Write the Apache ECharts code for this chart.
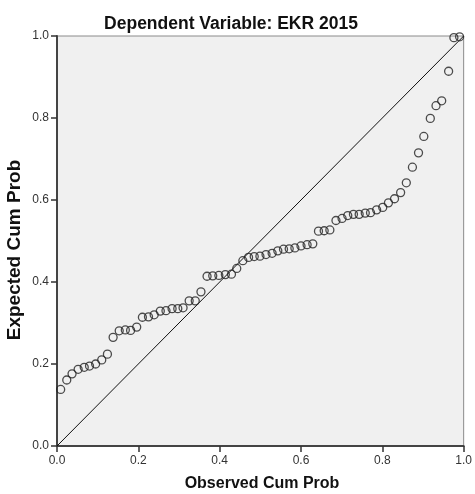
<!DOCTYPE html>
<html>
<head>
<meta charset="utf-8">
<script src="https://cdn.jsdelivr.net/npm/echarts@6/dist/echarts.min.js"></script>
<style>
  html, body { margin: 0; padding: 0; background: #fff; }
  #chart { width: 475px; height: 494px; }
</style>
</head>
<body>
<div id="chart"></div>
<script>
// observed cumulative probability (x) and expected cumulative probability (y)
const observedCum = [
  0.009, 0.024, 0.037, 0.052, 0.067, 0.080, 0.095, 0.110, 0.124, 0.138,
  0.153, 0.168, 0.181, 0.196, 0.210, 0.225, 0.239, 0.254, 0.268, 0.283,
  0.297, 0.310, 0.325, 0.340, 0.354, 0.369, 0.383, 0.398, 0.414, 0.429,
  0.442, 0.457, 0.471, 0.485, 0.499, 0.514, 0.529, 0.543, 0.557, 0.571,
  0.585, 0.600, 0.615, 0.629, 0.643, 0.657, 0.671, 0.686, 0.701, 0.715,
  0.729, 0.743, 0.758, 0.771, 0.786, 0.801, 0.815, 0.830, 0.845, 0.859,
  0.874, 0.889, 0.902, 0.918, 0.932, 0.946, 0.963, 0.976, 0.990
];
const expectedCum = [
  0.138, 0.161, 0.176, 0.187, 0.192, 0.195, 0.200, 0.210, 0.224, 0.265,
  0.281, 0.283, 0.282, 0.290, 0.314, 0.315, 0.320, 0.329, 0.330, 0.335,
  0.335, 0.337, 0.354, 0.354, 0.376, 0.414, 0.415, 0.416, 0.418, 0.419,
  0.433, 0.452, 0.460, 0.462, 0.463, 0.467, 0.470, 0.476, 0.480, 0.481,
  0.483, 0.488, 0.491, 0.493, 0.524, 0.525, 0.527, 0.550, 0.555, 0.562,
  0.565, 0.565, 0.568, 0.569, 0.576, 0.582, 0.593, 0.603, 0.618, 0.642,
  0.680, 0.715, 0.755, 0.799, 0.830, 0.842, 0.914, 0.996, 0.998
];
// diagonal reference line
const refX = [0, 1];
const refY = [0, 1];

const titleText = 'Dependent Variable: EKR 2015';
const xName = 'Observed Cum Prob';
const yName = 'Expected Cum Prob';

const chart = echarts.init(document.getElementById('chart'));

const font = 'Liberation Sans';

const axisCommon = {
  type: 'value',
  min: 0,
  max: 1,
  interval: 0.2,
  axisLine: { show: true, lineStyle: { color: '#444', width: 2 } },
  axisTick: { show: true, inside: false, length: 6, lineStyle: { color: '#333', width: 1.5 } },
  axisLabel: {
    fontFamily: font, fontSize: 12, color: '#333',
    formatter: v => v.toFixed(1)
  },
  splitLine: { show: false }
};

const option = {
  backgroundColor: '#ffffff',
  animation: false,
  title: {
    text: titleText,
    left: 226,
    top: 10,
    textAlign: 'center',
    textStyle: { fontFamily: font, fontWeight: 'bold', fontSize: 17.5, color: '#111' }
  },
  graphic: [
    {
      type: 'text',
      x: 262, y: 484,
      style: {
        text: xName, fontFamily: font, fontWeight: 'bold', fontSize: 16,
        fill: '#111', align: 'center', verticalAlign: 'middle'
      }
    },
    {
      type: 'text',
      x: 15, y: 250,
      rotation: Math.PI / 2,
      style: {
        text: yName, fontFamily: font, fontWeight: 'bold', fontSize: 19,
        fill: '#111', align: 'center', verticalAlign: 'middle'
      }
    }
  ],
  grid: {
    left: 57, right: 8, top: 36, bottom: 48,
    show: true,
    backgroundColor: '#f0f0f0',
    borderColor: '#8a8a8a',
    borderWidth: 1
  },
  xAxis: Object.assign({}, axisCommon, {
    axisLabel: Object.assign({}, axisCommon.axisLabel, { margin: 9 })
  }),
  yAxis: Object.assign({}, axisCommon, {
    axisLabel: Object.assign({}, axisCommon.axisLabel, { margin: 8 })
  }),
  series: [
    {
      type: 'line',
      data: refX.map((x, i) => [x, refY[i]]),
      symbol: 'none',
      lineStyle: { color: '#111', width: 1 },
      silent: true,
      z: 2
    },
    {
      type: 'scatter',
      data: observedCum.map((x, i) => [x, expectedCum[i]]),
      symbol: 'circle',
      symbolSize: 8,
      itemStyle: { color: 'rgba(0,0,0,0)', borderColor: '#222', borderWidth: 1.3 },
      z: 3
    }
  ]
};

chart.setOption(option);
</script>
</body>
</html>
